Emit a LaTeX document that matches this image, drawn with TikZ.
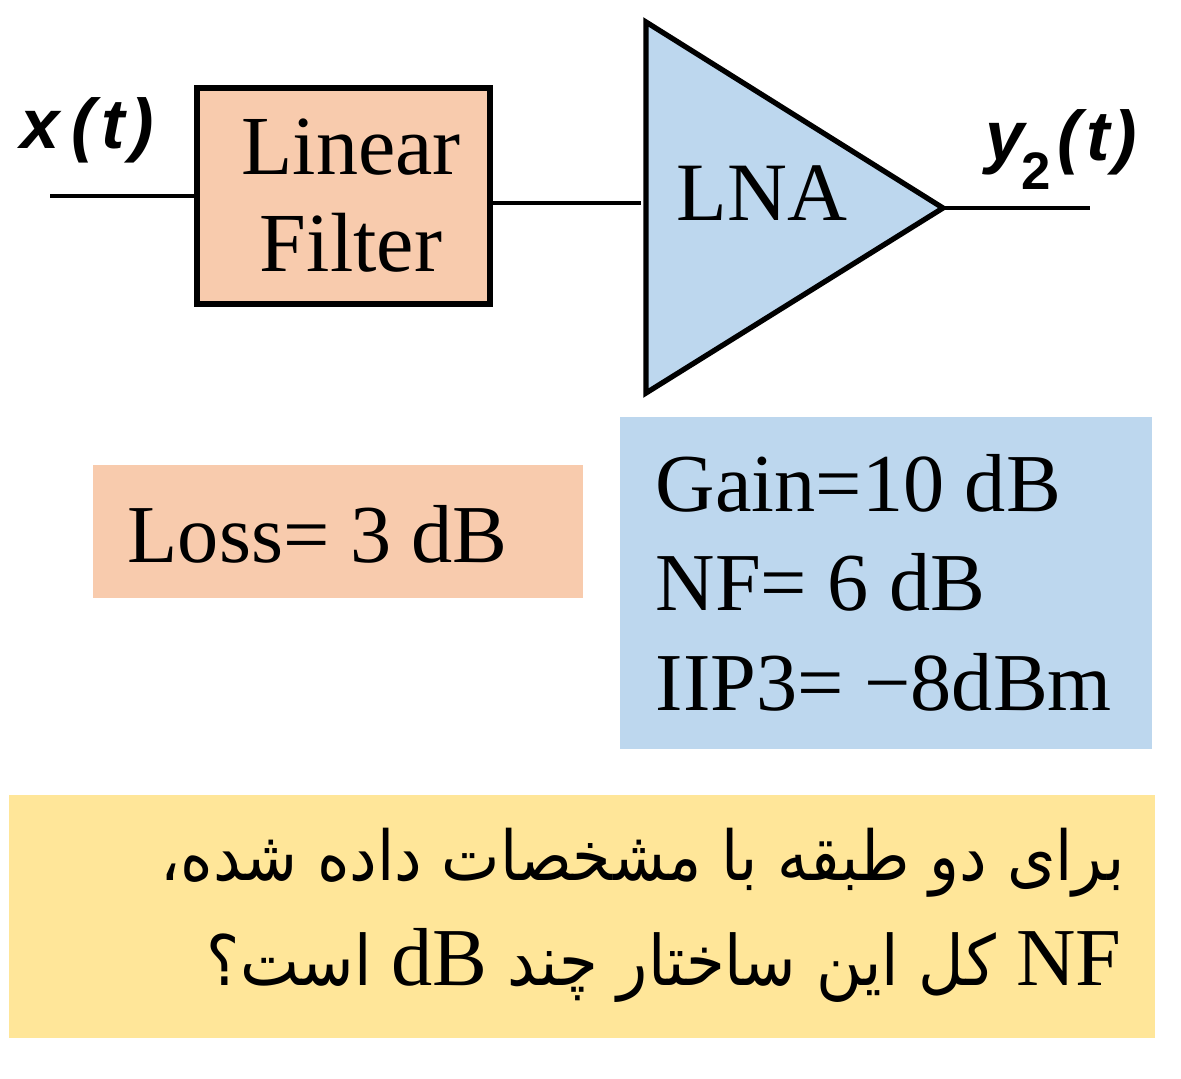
\documentclass[tikz,border=0pt]{standalone}
\usepackage{fontspec}
\setmainfont{Liberation Serif}
\newfontfamily\headfont{Liberation Sans}
\newfontfamily\arabicfont[Script=Arabic, FakeStretch=0.9]{DejaVu Sans}
\TeXXeTstate=1
\usetikzlibrary{positioning}
\usetikzlibrary{calc}
\definecolor{peach}{HTML}{F8CBAD}
\definecolor{skyblue}{HTML}{BDD7EE}
\definecolor{sand}{HTML}{FFE699}

\begin{document}
\begin{tikzpicture}[x=0.01cm, y=-0.01cm,
  blockbox/.style={draw, line width=1.5pt, fill=peach, inner sep=0pt,
                   minimum width=2.93cm, minimum height=2.16cm, align=center,
                   font=\fontsize{23.9}{27.6}\selectfont},
  wire/.style={line width=1.1pt},
  bigtext/.style={inner sep=0pt, align=left, font=\fontsize{23.4}{28.2}\selectfont},
  signal/.style={inner sep=0pt, font=\headfont\bfseries\itshape\fontsize{20}{24}\selectfont},
  infobox/.style={inner sep=0pt, draw=none}]
 \useasboundingbox (0,0) rectangle (1181,1078);

 %blocks
 \node[blockbox] (filter) at (343.5,196) {\hspace*{0.15cm}Linear\\\hspace*{0.15cm}Filter};

 \coordinate (lnaTop) at (646,22);
 \coordinate (lnaBot) at (646,393);
 \coordinate (lnaOut) at (943,208);
 \coordinate (lnaIn) at (641,203);
 \draw[line width=1.5pt, fill=skyblue, line join=miter] (lnaTop) -- (lnaOut) -- (lnaBot) -- cycle;
 \node[inner sep=0pt, anchor=base west, font=\fontsize{23.6}{28}\selectfont] (lna) at (676,220) {LNA};

 %wires
 \coordinate (xIn) at (50,196);
 \coordinate (yOut) at (1090,208);
 \draw[wire] (xIn) -- (filter.west);
 \draw[wire] (filter.east |- lnaIn) -- (lnaIn);
 \draw[wire] (lnaOut) -- (yOut);

 \node[signal, anchor=base west] (xLabel) at (20,148) {x\,(\kern2pt t\kern1.5pt)};
 \node[signal, anchor=base west] (yLabel) at (985,160) {y\kern-1pt\raisebox{-0.8ex}{\fontsize{15}{15}\selectfont\upshape 2}\kern2pt(\kern1.5pt t\kern1pt)};

 %specs
 \node[infobox, fill=peach, minimum width=4.90cm, minimum height=1.33cm] (lossBox) at (338,531.5) {};
 \node[bigtext, anchor=base west] (lossText) at (127,562) {Loss= 3 dB};

 \node[infobox, fill=skyblue, minimum width=5.32cm, minimum height=3.32cm] (lnaBox) at (886,583) {};
 \node[bigtext, anchor=base west] (lnaText) at (655,710) {Gain=10 dB\\NF= 6 dB\\IIP3= −8dBm};

 %question
 \node[infobox, fill=sand, minimum width=11.46cm, minimum height=2.43cm] (askBox) at (582,916.5) {};
 \node[inner sep=0pt, anchor=base east, font=\arabicfont\fontsize{19.6}{24}\selectfont] (askOne) at (1125,880)
   {\beginR برای دو طبقه با مشخصات داده شده،\endR};
 \node[inner sep=0pt, anchor=base east, font=\arabicfont\fontsize{19.8}{24}\selectfont] (askTwo) at (1122,985)
   {\beginR{\rmfamily\fontsize{23.4}{24}\selectfont NF} کل این ساختار چند {\rmfamily\fontsize{23.4}{24}\selectfont dB} است؟\endR};
\end{tikzpicture}
\end{document}
